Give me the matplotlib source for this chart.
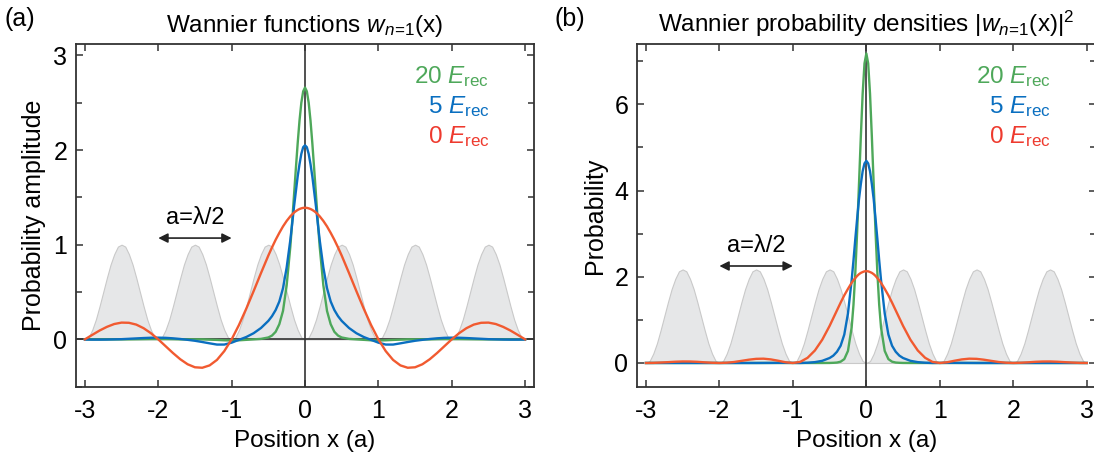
import numpy as np
import matplotlib
matplotlib.use("Agg")
import matplotlib.pyplot as plt
from matplotlib.ticker import MultipleLocator

plt.rcParams['font.family'] = ['Liberation Sans', 'DejaVu Sans']
plt.rcParams['mathtext.fontset'] = 'custom'
plt.rcParams['mathtext.rm'] = 'Liberation Sans'
plt.rcParams['mathtext.it'] = 'Liberation Sans:italic'
plt.rcParams['axes.unicode_minus'] = False

# sample positions (x >= 0, curves are mirror symmetric)
x_half = [0, 0.025, 0.05, 0.075, 0.1, 0.125, 0.15, 0.175, 0.2, 0.25, 0.3, 0.35,
          0.4, 0.45, 0.5, 0.6, 0.7, 0.8, 0.9, 1.0, 1.1, 1.2, 1.3, 1.4, 1.5, 1.6,
          1.7, 1.8, 1.9, 2.0, 2.1, 2.2, 2.3, 2.4, 2.5, 2.6, 2.7, 2.8, 2.9, 3.0]

# (a) Wannier functions
w_20 = [2.66, 2.62, 2.50, 2.31, 2.07, 1.80, 1.52, 1.24, 0.98, 0.57, 0.30, 0.16,
        0.08, 0.04, 0.02, 0.005, 0.0, -0.005, -0.01, -0.012, -0.01, -0.006, -0.003, 0.0, 0.0, 0.0,
        0.0, 0.002, 0.003, 0.003, 0.003, 0.002, 0.001, 0.0, 0.0, 0.0, 0.0, 0.0, 0.0, 0.0]
w_5 = [2.05, 2.03, 1.96, 1.85, 1.72, 1.56, 1.40, 1.22, 1.05, 0.76, 0.54, 0.40,
       0.31, 0.245, 0.195, 0.12, 0.065, 0.025, -0.005, -0.035, -0.055, -0.055, -0.042, -0.028, -0.015, -0.005,
       0.004, 0.011, 0.016, 0.018, 0.017, 0.014, 0.010, 0.006, 0.002, 0.0, -0.002, -0.003, -0.003, -0.002]
w_0 = [1.39, 1.389, 1.384, 1.377, 1.367, 1.354, 1.339, 1.320, 1.30, 1.251, 1.193, 1.125,
       1.052, 0.971, 0.885, 0.70, 0.51, 0.325, 0.152, 0.0, -0.124, -0.217, -0.275, -0.30, -0.295, -0.263,
       -0.21, -0.144, -0.072, 0.0, 0.065, 0.118, 0.156, 0.175, 0.177, 0.162, 0.132, 0.093, 0.047, 0.0]

# (b) probability densities
p_20 = [7.18, 6.95, 6.25, 5.25, 4.15, 3.05, 2.10, 1.35, 0.82, 0.28, 0.09, 0.03,
        0.01, 0.004, 0.001, 0.0, 0.0, 0.0, 0.0, 0.0, 0.0, 0.0, 0.0, 0.0, 0.0, 0.0,
        0.0, 0.0, 0.0, 0.0, 0.0, 0.0, 0.0, 0.0, 0.0, 0.0, 0.0, 0.0, 0.0, 0.0]
p_5 = [4.69, 4.63, 4.45, 4.15, 3.80, 3.35, 2.88, 2.38, 1.92, 1.15, 0.66, 0.40,
       0.26, 0.17, 0.115, 0.05, 0.02, 0.006, 0.0, 0.0015, 0.003, 0.003, 0.002, 0.001, 0.0, 0.0,
       0.0, 0.0, 0.0, 0.0, 0.0, 0.0, 0.0, 0.0, 0.0, 0.0, 0.0, 0.0, 0.0, 0.0]
p_0 = [2.13, 2.126, 2.11, 2.09, 2.06, 2.02, 1.97, 1.92, 1.86, 1.72, 1.57, 1.40,
       1.22, 1.04, 0.86, 0.54, 0.29, 0.12, 0.025, 0.0, 0.017, 0.052, 0.083, 0.10, 0.096, 0.076,
       0.049, 0.023, 0.006, 0.0, 0.005, 0.015, 0.027, 0.034, 0.035, 0.029, 0.019, 0.010, 0.002, 0.0]

# lattice potential, one period (step 0.05 a), and its height in each panel
lattice_period = [0, 0.02, 0.1, 0.21, 0.35, 0.5, 0.65, 0.79, 0.9, 0.98, 1.0,
                  0.98, 0.9, 0.79, 0.65, 0.5, 0.35, 0.21, 0.1, 0.02, 0]
lattice_height = [1.0, 2.17]

labels = ["20", "5", "0"]
colors = ["#4ea85a", "#0a6fc0", "#f15a30"]
text_colors = ["#4ea85a", "#0a6fc0", "#ee3a2e"]


def mirror(v):
    v = np.asarray(v, dtype=float)
    return np.r_[v[:0:-1], v]


x_full = np.r_[-np.asarray(x_half)[:0:-1], x_half]
x_lat = np.linspace(-3, 3, 6 * (len(lattice_period) - 1) + 1)
lat = np.r_[np.tile(lattice_period[:-1], 6), 0.0]

fig = plt.figure(figsize=(10.94, 4.58), dpi=100)
ax1 = fig.add_axes([0.0692, 0.1557, 0.4192, 0.7482])
ax2 = fig.add_axes([0.582, 0.1557, 0.4198, 0.7482])

panels = [
    (ax1, [w_20, w_5, w_0], lattice_height[0], (-0.5, 3.12), 1, 0.5,
     "Probability amplitude", "Wannier functions $w_{n\\!=\\!1}$(x)", 1.07, 1.22, "(a)"),
    (ax2, [p_20, p_5, p_0], lattice_height[1], (-0.55, 7.4), 2, 1,
     "Probability", "Wannier probability densities |$w_{n\\!=\\!1}$(x)|$^2$", 2.25, 2.57, "(b)"),
]

for ax, series, h, ylim, major, minor, ylab, title, yarrow, ytext, tag in panels:
    ax.fill_between(x_lat, 0, h * lat, facecolor="#e6e7e8", edgecolor="#c9c9c9", lw=0.8, zorder=1)
    ax.axvline(0, color="#333333", lw=1.2, zorder=2)
    if ax is ax1:
        ax.axhline(0, color="#333333", lw=1.2, zorder=2)
    for vals, c in zip(series, colors):
        ax.plot(x_full, mirror(vals), color=c, lw=1.7, zorder=3)

    ax.set_xlim(-3.125, 3.125)
    ax.set_ylim(*ylim)
    ax.xaxis.set_major_locator(MultipleLocator(1))
    ax.yaxis.set_major_locator(MultipleLocator(major))
    ax.yaxis.set_minor_locator(MultipleLocator(minor))
    ax.tick_params(which="both", direction="in", top=True, right=True,
                   labelsize=18, width=1.1, color="#333333")
    ax.tick_params(which="major", length=5)
    ax.tick_params(axis="x", which="major", pad=9)
    ax.tick_params(axis="y", which="major", pad=6)
    ax.tick_params(which="minor", length=4)
    for s in ax.spines.values():
        s.set_linewidth(1.3)
        s.set_color("#333333")
    ax.set_xlabel("Position x (a)", fontsize=17.5, labelpad=5)
    ax.set_ylabel(ylab, fontsize=18, labelpad=5)
    ax.set_title(title, fontsize=17.5, pad=9)

    ax.annotate("", xy=(-1.0, yarrow), xytext=(-2.0, yarrow),
                arrowprops=dict(arrowstyle="<|-|>", color="#222222", lw=1.2,
                                mutation_scale=14, shrinkA=0, shrinkB=0))
    ax.text(-1.5, ytext, "a=\u03bb/2", fontsize=17, ha="center", va="baseline")

    for i, (lab, tc) in enumerate(zip(labels, text_colors)):
        ax.text(0.902, 0.886 - i * 0.087, lab + " $E_{\\rm rec}$", transform=ax.transAxes,
                color=tc, fontsize=17.5, ha="right", va="baseline")

fig.text(0.004, 0.958, "(a)", fontsize=18, va="center")
fig.text(0.507, 0.958, "(b)", fontsize=18, va="center")

fig.savefig("out.png", dpi=100)
